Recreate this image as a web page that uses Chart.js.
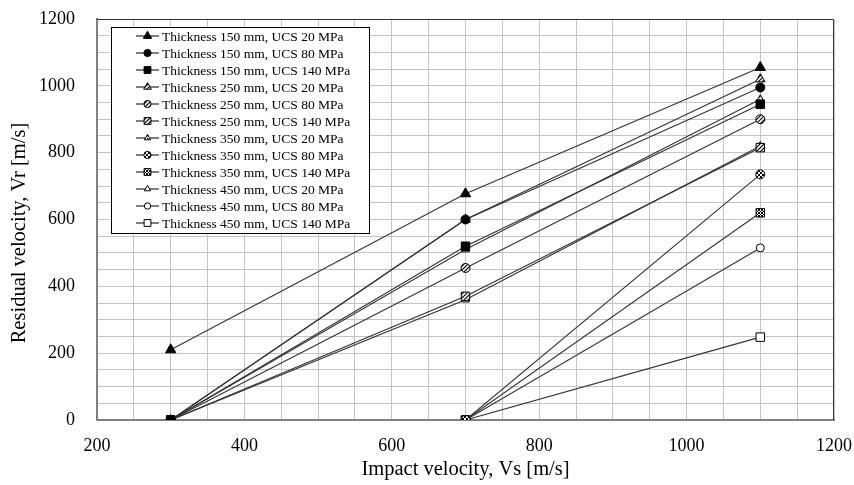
<!DOCTYPE html>
<html>
<head>
<meta charset="utf-8">
<script src="https://cdn.jsdelivr.net/npm/chart.js@4/dist/chart.umd.min.js"></script>
<style>
  body { margin: 0; background: #fff; }
  #wrap { width: 854px; height: 485px; }
</style>
</head>
<body>
<div id="wrap"><canvas id="chart" width="854" height="485"></canvas></div>
<script>
// impact velocity (x), residual velocity per case (y)
const impactVelocity = [300, 700, 1100];

const t150u20 = [210, 677, 1055];
const t150u80 = [0, 600, 995];
const t150u140 = [0, 520, 945];
const t250u20 = [0, 600, 1020];
const t250u80 = [0, 455, 900];
const t250u140 = [0, 370, 815];
const t350u20 = [0, 510, 960];
const t350u80 = [null, 0, 735];
const t350u140 = [null, 0, 620];
const t450u20 = [0, 360, 820];
const t450u80 = [null, 0, 515];
const t450u140 = [null, 0, 248];

const seriesLabels = [
    'Thickness 150 mm, UCS 20 MPa', 'Thickness 150 mm, UCS 80 MPa', 'Thickness 150 mm, UCS 140 MPa',
    'Thickness 250 mm, UCS 20 MPa', 'Thickness 250 mm, UCS 80 MPa', 'Thickness 250 mm, UCS 140 MPa',
    'Thickness 350 mm, UCS 20 MPa', 'Thickness 350 mm, UCS 80 MPa', 'Thickness 350 mm, UCS 140 MPa',
    'Thickness 450 mm, UCS 20 MPa', 'Thickness 450 mm, UCS 80 MPa', 'Thickness 450 mm, UCS 140 MPa'
];
const seriesValues = [t150u20, t150u80, t150u140, t250u20, t250u80, t250u140,
    t350u20, t350u80, t350u140, t450u20, t450u80, t450u140];

const xTickLabels = [200, 400, 600, 800, 1000, 1200];
const yTickLabels = [0, 200, 400, 600, 800, 1000, 1200];
const xTitle = 'Impact velocity, Vs [m/s]';
const yTitle = 'Residual velocity, Vr [m/s]';

const FONT = "'Liberation Serif', 'Times New Roman', serif";

function makePattern(size, draw) {
    const c = document.createElement('canvas');
    c.width = size;
    c.height = size;
    const g = c.getContext('2d');
    g.fillStyle = '#fff';
    g.fillRect(0, 0, size, size);
    g.fillStyle = '#000';
    g.strokeStyle = '#000';
    draw(g);
    return g.createPattern(c, 'repeat');
}

const hatch = makePattern(4, g => {
    g.lineWidth = 1.2;
    g.beginPath();
    g.moveTo(0, 4); g.lineTo(4, 0);
    g.moveTo(-1, 1); g.lineTo(1, -1);
    g.moveTo(3, 5); g.lineTo(5, 3);
    g.stroke();
});
const dots = makePattern(3, g => { g.fillRect(0, 0, 1.5, 1.5); });
const cross = makePattern(4, g => {
    g.fillRect(0, 0, 2, 2);
    g.fillRect(2, 2, 2, 2);
});
const checker = makePattern(3, g => {
    g.fillRect(0, 0, 1, 1);
    g.fillRect(2, 0, 1, 1);
    g.fillRect(1, 1, 1, 1);
    g.fillRect(0, 2, 1, 1);
    g.fillRect(2, 2, 1, 1);
});

const markers = [
    { style: 'triangle', fill: '#000', r: 6 },
    { style: 'circle', fill: '#000', r: 4.5 },
    { style: 'rect', fill: '#000', r: 6 },
    { style: 'triangle', fill: hatch, r: 5.5 },
    { style: 'circle', fill: hatch, r: 4.5 },
    { style: 'rect', fill: hatch, r: 6 },
    { style: 'triangle', fill: dots, r: 4.5 },
    { style: 'circle', fill: cross, r: 4.5 },
    { style: 'rect', fill: checker, r: 6 },
    { style: 'triangle', fill: '#fff', r: 4.5 },
    { style: 'circle', fill: '#fff', r: 4 },
    { style: 'rect', fill: '#fff', r: 6 }
];

const datasets = seriesValues.map((vals, i) => ({
    label: seriesLabels[i],
    data: impactVelocity.map((x, j) => ({ x: x, y: vals[j] })).filter(p => p.y !== null),
    borderColor: '#333333',
    borderWidth: 1.1,
    pointStyle: markers[i].style,
    pointRadius: markers[i].r,
    pointBackgroundColor: markers[i].fill,
    pointBorderColor: '#000',
    pointBorderWidth: 1,
    tension: 0
}));

// legend box inside the plot, top left
const boxLegend = {
    id: 'boxLegend',
    afterDraw(chart) {
        const ctx = chart.ctx;
        const x0 = 111, y0 = 27, w = 258, h = 206;
        ctx.save();
        ctx.fillStyle = '#fff';
        ctx.fillRect(x0, y0, w, h);
        ctx.strokeStyle = '#000';
        ctx.lineWidth = 1;
        ctx.strokeRect(x0 + 0.5, y0 + 0.5, w, h);
        ctx.font = '13.5px ' + FONT;
        ctx.textBaseline = 'middle';
        chart.data.datasets.forEach((ds, i) => {
            const y = y0 + 9 + i * 17;
            ctx.strokeStyle = '#000';
            ctx.lineWidth = 1;
            ctx.beginPath();
            ctx.moveTo(136, y);
            ctx.lineTo(159, y);
            ctx.stroke();
            ctx.fillStyle = markers[i].fill;
            Chart.helpers.drawPoint(ctx, {
                pointStyle: markers[i].style,
                radius: markers[i].r * 0.8,
                rotation: 0,
                borderWidth: 1
            }, 147.5, y);
            ctx.fillStyle = '#000';
            ctx.fillText(ds.label, 162, y + 1);
        });
        ctx.restore();
    }
};

// y title sits a bit below the middle of the axis in the original
const yTitlePlugin = {
    id: 'yTitle',
    afterDraw(chart) {
        const ctx = chart.ctx;
        ctx.save();
        ctx.translate(20, 233);
        ctx.rotate(-Math.PI / 2);
        ctx.font = '20.5px ' + FONT;
        ctx.fillStyle = '#000';
        ctx.textAlign = 'center';
        ctx.textBaseline = 'middle';
        ctx.fillText(yTitle, 0, 0);
        ctx.restore();
    }
};

// plot frame on top and right
const frame = {
    id: 'frame',
    beforeDatasetsDraw(chart) {
        const a = chart.chartArea;
        const ctx = chart.ctx;
        ctx.save();
        ctx.strokeStyle = '#333';
        ctx.lineWidth = 1;
        ctx.beginPath();
        ctx.moveTo(a.left, a.top + 0.5);
        ctx.lineTo(a.right - 0.5, a.top + 0.5);
        ctx.lineTo(a.right - 0.5, a.bottom);
        ctx.stroke();
        ctx.restore();
    }
};

new Chart(document.getElementById('chart'), {
    type: 'line',
    data: { datasets: datasets },
    plugins: [frame, boxLegend, yTitlePlugin],
    options: {
        responsive: false,
        animation: false,
        layout: { padding: { left: 8, right: 20, top: 19, bottom: 3 } },
        plugins: {
            legend: { display: false },
            tooltip: { enabled: false }
        },
        scales: {
            x: {
                type: 'linear',
                min: 200,
                max: 1200,
                afterFit: s => {
                    s.height = 485 - 420 - 3;
                    s.paddingLeft = 0;
                    s.paddingRight = 0;
                },
                ticks: {
                    stepSize: 50,
                    autoSkip: false,
                    maxRotation: 0,
                    padding: 15,
                    color: '#000',
                    font: { family: FONT, size: 18 },
                    callback: v => xTickLabels.includes(v) ? v : ''
                },
                grid: { color: '#c4c4c4', lineWidth: 1, drawTicks: false },
                border: { color: '#808080', width: 2 },
                title: {
                    display: true,
                    text: xTitle,
                    color: '#000',
                    font: { family: FONT, size: 20.5 },
                    padding: { top: 0, bottom: 0 }
                }
            },
            y: {
                type: 'linear',
                min: 0,
                max: 1200,
                afterFit: s => {
                    s.width = 97 - 8;
                    s.paddingTop = 0;
                    s.paddingBottom = 0;
                },
                ticks: {
                    stepSize: 50,
                    autoSkip: false,
                    padding: 22,
                    color: '#000',
                    font: { family: FONT, size: 18 },
                    callback: v => yTickLabels.includes(v) ? v : ''
                },
                grid: { color: '#c4c4c4', lineWidth: 1, drawTicks: false },
                border: { color: '#808080', width: 2 }
            }
        }
    }
});
</script>
</body>
</html>
